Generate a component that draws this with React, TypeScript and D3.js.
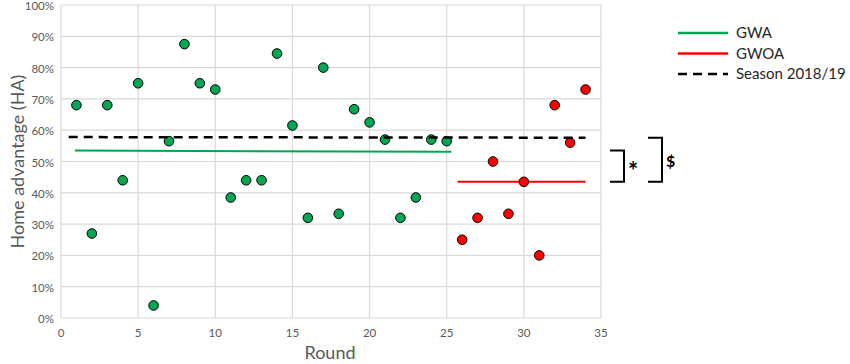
import React from "react"
import * as d3 from "d3"

// rounds and home advantage values (%)
const gwaRounds = [1, 2, 3, 4, 5, 6, 7, 8, 9, 10, 11, 12, 13, 14, 15, 16, 17, 18, 19, 20, 21, 22, 23, 24, 25]
const gwaValues = [68, 27, 68, 44, 75, 4, 56.5, 87.5, 75, 73, 38.5, 44, 44, 84.5, 61.5, 32, 80, 33.3, 66.7, 62.5, 57, 32, 38.5, 57, 56.5]
const gwoaRounds = [26, 27, 28, 29, 30, 31, 32, 33, 34]
const gwoaValues = [25, 32, 50, 33.3, 43.5, 20, 68, 56, 73]

// mean lines: [xStart, xEnd, yStart, yEnd]
const gwaMean = [0.9, 25.3, 53.5, 53.1]
const gwoaMean = [25.7, 34, 43.5, 43.5]
const seasonMean = [0.5, 34, 57.8, 57.6]

const xTicks = [0, 5, 10, 15, 20, 25, 30, 35]
const yTicks = [0, 10, 20, 30, 40, 50, 60, 70, 80, 90, 100]
const legendItems = ["GWA", "GWOA", "Season 2018/19"]

const W = 850
const H = 364
const margin = { left: 61, top: 5, right: 249, bottom: 46 }
const font = "Lato, Open Sans, sans-serif"
const green = "#00a651"
const red = "#ff0000"

export default function App() {
    const x = d3.scaleLinear().domain([0, 35]).range([margin.left, W - margin.right])
    const y = d3.scaleLinear().domain([0, 100]).range([H - margin.bottom, margin.top])

    const line = d3.line<[number, number]>().x(d => x(d[0])).y(d => y(d[1]))
    const meanPath = (m: number[]) => line([[m[0], m[2]], [m[1], m[3]]]) || ""

    const legendStyles = [
        { stroke: green, dash: undefined },
        { stroke: red, dash: undefined },
        { stroke: "#000", dash: "9,6" },
    ]

    // significance brackets between the mean lines
    const b1Top = y(gwaMean[2]), b1Bot = y(gwoaMean[2])
    const b2Top = y(seasonMean[3]), b2Bot = y(gwoaMean[2])

    return (
        <svg width={W} height={H} style={{ position: "absolute", left: 0, top: 0, background: "#fff" }}>
            <g>
                {yTicks.map(t => (
                    <line key={"gy" + t} x1={x(0)} x2={x(35)} y1={y(t)} y2={y(t)} stroke="#d9d9d9" strokeWidth={1.2} />
                ))}
                {xTicks.map(t => (
                    <line key={"gx" + t} x1={x(t)} x2={x(t)} y1={y(0)} y2={y(100)} stroke="#d9d9d9" strokeWidth={1.2} />
                ))}
            </g>
            <g fontFamily={font} fontSize={11.5} fill="#595959">
                {yTicks.map(t => (
                    <text key={"ty" + t} x={x(0) - 7} y={y(t) + 1} dy="0.35em" textAnchor="end">{t + "%"}</text>
                ))}
                {xTicks.map(t => (
                    <text key={"tx" + t} x={x(t)} y={y(0) + 19} textAnchor="middle">{t}</text>
                ))}
            </g>
            <text x={x(17.5) - 1} y={H - 5} textAnchor="middle" fontFamily={font} fontSize={18} fill="#595959">Round</text>
            <text transform={`translate(24,${y(50)}) rotate(-90)`} textAnchor="middle" fontFamily={font} fontSize={18} fill="#595959">Home advantage (HA)</text>

            <path d={meanPath(gwaMean)} stroke={green} strokeWidth={2} fill="none" />
            <path d={meanPath(gwoaMean)} stroke={red} strokeWidth={2} fill="none" />

            {gwaRounds.map((r, i) => (
                <circle key={"g" + r} cx={x(r)} cy={y(gwaValues[i])} r={4.8} fill={green} stroke="#000" strokeWidth={1} />
            ))}
            {gwoaRounds.map((r, i) => (
                <circle key={"r" + r} cx={x(r)} cy={y(gwoaValues[i])} r={4.8} fill={red} stroke="#000" strokeWidth={1} />
            ))}

            <path d={meanPath(seasonMean)} stroke="#000" strokeWidth={2.5} strokeDasharray="9,6" fill="none" />

            <g stroke="#000" strokeWidth={2} fill="none">
                <path d={`M610,${b1Top}H624V${b1Bot}H610`} />
                <path d={`M648,${b2Top}H662V${b2Bot}H648`} />
            </g>
            <text x={628} y={180} fontFamily={font} fontSize={24} fontWeight="bold" fill="#000">*</text>
            <text x={666} y={167} fontFamily={font} fontSize={16} fontWeight="bold" fill="#000">$</text>

            <g fontFamily={font} fontSize={15} fill="#262626">
                {legendItems.map((name, i) => (
                    <g key={name} transform={`translate(678,${33 + i * 20.5})`}>
                        <line x1={0} x2={50} y1={0} y2={0} stroke={legendStyles[i].stroke} strokeWidth={2.5} strokeDasharray={legendStyles[i].dash} />
                        <text x={58} y={0} dy="0.35em">{name}</text>
                    </g>
                ))}
            </g>
        </svg>
    )
}
